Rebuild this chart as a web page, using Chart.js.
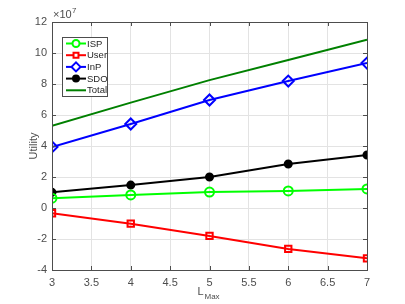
<!DOCTYPE html>
<html>
<head>
<meta charset="utf-8">
<script src="https://cdn.jsdelivr.net/npm/chart.js@4"></script>
<style>
  html, body { margin: 0; padding: 0; background: #fff; }
  #wrap { width: 405px; height: 304px; }
</style>
</head>
<body>
<div id="wrap"><canvas id="utilChart"></canvas></div>
<script>
// data (values in absolute units, axis shown x10^7)
var lmax = [3, 4, 5, 6, 7];
var isp = [0.63e7, 0.84e7, 1.03e7, 1.10e7, 1.23e7];
var user = [-0.34e7, -1.01e7, -1.80e7, -2.64e7, -3.25e7];
var inp = [3.94e7, 5.42e7, 6.97e7, 8.19e7, 9.35e7];
var sdo = [1.01e7, 1.48e7, 2.00e7, 2.84e7, 3.42e7];
var total = [5.30e7, 6.80e7, 8.25e7, 9.55e7, 10.85e7];
var xTicks = [3, 3.5, 4, 4.5, 5, 5.5, 6, 6.5, 7];
var yTicks = [-4, -2, 0, 2, 4, 6, 8, 10, 12];

function pts(arr) {
  return lmax.map(function(x, i) { return { x: x, y: arr[i] }; });
}

var FONT = '"Liberation Sans", Arial, sans-serif';
var axisColor = '#4d4d4d';

var series = [
  { label: 'ISP', data: isp, color: '#00ff00', style: 'circle', fill: false },
  { label: 'User', data: user, color: '#ff0000', style: 'rect', fill: false },
  { label: 'InP', data: inp, color: '#0000ff', style: 'rectRot', fill: false },
  { label: 'SDO', data: sdo, color: '#000000', style: 'circle', fill: true },
  { label: 'Total', data: total, color: '#008000', style: false, fill: false }
];

function markerRadius(s, legend) {
  if (!s.style) return 0;
  if (s.style === 'rectRot') return legend ? 4.5 : 5.5;
  if (s.fill) return legend ? 3 : 3.5;
  return legend ? 3.5 : 4.5;
}

var datasets = series.map(function(s) {
  return {
    label: s.label,
    data: pts(s.data),
    borderColor: s.color,
    backgroundColor: s.fill ? s.color : 'rgba(255,255,255,0)',
    borderWidth: 2,
    pointStyle: s.style,
    pointRadius: markerRadius(s, false),
    pointBorderWidth: 2,
    tension: 0
  };
});

// box, inward ticks, exponent, titles and legend, MATLAB style
var matlabDecor = {
  id: 'matlabDecor',
  afterDraw: function(chart) {
    var c = chart.ctx, a = chart.chartArea;
    var xs = chart.scales.x, ys = chart.scales.y;
    c.save();
    c.strokeStyle = axisColor;
    c.lineWidth = 1;
    c.strokeRect(Math.round(a.left) + 0.5, Math.round(a.top) + 0.5,
      Math.round(a.right - a.left), Math.round(a.bottom - a.top));
    c.beginPath();
    xTicks.forEach(function(v) {
      var px = Math.round(xs.getPixelForValue(v)) + 0.5;
      c.moveTo(px, a.bottom); c.lineTo(px, a.bottom - 4);
      c.moveTo(px, a.top); c.lineTo(px, a.top + 4);
    });
    yTicks.forEach(function(v) {
      var py = Math.round(ys.getPixelForValue(v * 1e7)) + 0.5;
      c.moveTo(a.left, py); c.lineTo(a.left + 4, py);
      c.moveTo(a.right, py); c.lineTo(a.right - 4, py);
    });
    c.stroke();

    // exponent label
    c.fillStyle = axisColor;
    c.textBaseline = 'alphabetic';
    c.textAlign = 'left';
    c.font = '11px ' + FONT;
    c.fillText('\u00d710', a.left + 1, a.top - 4);
    c.font = '8px ' + FONT;
    c.fillText('7', a.left + 20, a.top - 9);

    // y title
    c.font = '11px ' + FONT;
    c.save();
    c.translate(33, (a.top + a.bottom) / 2);
    c.rotate(-Math.PI / 2);
    c.textAlign = 'center';
    c.fillText('Utility', 0, 4);
    c.restore();

    // x title L_Max
    var cx = (a.left + a.right) / 2;
    c.font = '11px ' + FONT;
    c.textAlign = 'left';
    c.fillText('L', cx - 12, 295);
    c.font = '8px ' + FONT;
    c.fillText('Max', cx - 5, 299);

    // legend
    var lx = 62, ly = 37, lw = 45, lh = 59;
    c.fillStyle = '#fff';
    c.fillRect(lx, ly, lw, lh);
    c.lineWidth = 1;
    c.strokeStyle = axisColor;
    c.strokeRect(lx + 0.5, ly + 0.5, lw, lh);
    series.forEach(function(s, i) {
      var yy = ly + 6.5 + i * 11.7;
      c.strokeStyle = s.color;
      c.lineWidth = 2;
      c.beginPath();
      c.moveTo(lx + 4, yy); c.lineTo(lx + 24, yy);
      c.stroke();
      if (s.style) {
        c.fillStyle = s.fill ? s.color : '#fff';
        Chart.helpers.drawPoint(c, {
          pointStyle: s.style,
          radius: markerRadius(s, true),
          borderWidth: 2
        }, lx + 14, yy);
      }
      c.fillStyle = '#262626';
      c.font = '9.5px ' + FONT;
      c.textAlign = 'left';
      c.textBaseline = 'middle';
      c.fillText(s.label, lx + 25, yy + 0.5);
    });
    c.restore();
  }
};

var ctx = document.getElementById('utilChart').getContext('2d');
var utilChart = new Chart(ctx, {
  type: 'line',
  data: { datasets: datasets },
  options: {
    responsive: true,
    maintainAspectRatio: false,
    animation: false,
    layout: { padding: { top: 22, right: 38, left: 0, bottom: 0 } },
    plugins: {
      legend: { display: false },
      tooltip: { enabled: false }
    },
    scales: {
      x: {
        type: 'linear',
        min: 3, max: 7,
        afterFit: function(s) { s.height = 34; },
        afterBuildTicks: function(s) { s.ticks = xTicks.map(function(v) { return { value: v }; }); },
        grid: { color: '#e3e3e3', drawTicks: false },
        border: { display: false },
        ticks: {
          color: axisColor, padding: 6, maxRotation: 0,
          font: { size: 11, family: FONT },
          callback: function(v) { return String(v); }
        }
      },
      y: {
        min: -4e7, max: 12e7,
        afterFit: function(s) { s.width = 52; },
        afterBuildTicks: function(s) { s.ticks = yTicks.map(function(v) { return { value: v * 1e7 }; }); },
        grid: { color: '#e3e3e3', drawTicks: false },
        border: { display: false },
        ticks: {
          color: axisColor, padding: 5,
          font: { size: 11, family: FONT },
          callback: function(v) { return String(Math.round(v / 1e7)); }
        }
      }
    }
  },
  plugins: [matlabDecor]
});
</script>
</body>
</html>
